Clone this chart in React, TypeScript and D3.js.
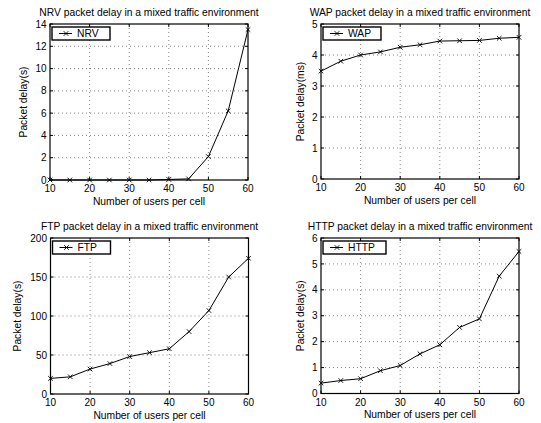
import React from "react";
import * as d3 from "d3";

const users = [10, 15, 20, 25, 30, 35, 40, 45, 50, 55, 60];
const nrvDelay = [0, 0, 0, 0, 0, 0, 0.05, 0.1, 2.1, 6.2, 13.5];
const wapDelay = [3.48, 3.8, 4.0, 4.1, 4.25, 4.33, 4.45, 4.46, 4.47, 4.54, 4.57];
const ftpDelay = [20, 22, 32, 39, 48, 53, 58, 80, 107, 150, 174];
const httpDelay = [0.4, 0.5, 0.57, 0.88, 1.08, 1.53, 1.88, 2.55, 2.88, 4.53, 5.48];

const xTicks = [10, 20, 30, 40, 50, 60];
const nrvTicks = [0, 2, 4, 6, 8, 10, 12, 14];
const wapTicks = [0, 1, 2, 3, 4, 5];
const ftpTicks = [0, 50, 100, 150, 200];
const httpTicks = [0, 1, 2, 3, 4, 5, 6];

const titles = [
  "NRV packet delay in a mixed traffic environment",
  "WAP packet delay in a mixed traffic environment",
  "FTP packet delay in a mixed traffic environment",
  "HTTP packet delay in a mixed traffic environment",
];
const legendNames = ["NRV", "WAP", "FTP", "HTTP"];
const yLabels = ["Packet delay(s)", "Packet delay(ms)", "Packet delay(s)", "Packet delay(s)"];
const xLabel = "Number of users per cell";

const FONT = "'Liberation Sans', Arial, Helvetica, sans-serif";

type PanelProps = {
  left: number;
  top: number;
  width: number;
  height: number;
  values: number[];
  yTicks: number[];
  title: string;
  legend: string;
  legendW: number;
  yLabel: string;
  yLabelOff: number;
};

function Panel(p: PanelProps) {
  const x = d3.scaleLinear().domain([10, 60]).range([p.left, p.left + p.width]);
  const yMax = p.yTicks[p.yTicks.length - 1];
  const y = d3.scaleLinear().domain([0, yMax]).range([p.top + p.height, p.top]);
  const line = d3
    .line<number>()
    .x((_, i) => x(users[i]))
    .y((d) => y(d));
  const right = p.left + p.width;
  const bottom = p.top + p.height;
  const tl = 3;
  const m = 2.3;
  const cross = (cx: number, cy: number, k: string) => (
    <path
      key={k}
      d={`M${cx - m},${cy - m}L${cx + m},${cy + m}M${cx - m},${cy + m}L${cx + m},${cy - m}`}
      stroke="#000"
      strokeWidth={0.9}
    />
  );
  const lx = p.left + 2;
  const ly = p.top + 3;
  const lh = 13;
  return (
    <g>
      {/* grid */}
      {xTicks.slice(1, -1).map((t) => (
        <line key={"gx" + t} x1={x(t)} x2={x(t)} y1={p.top} y2={bottom} stroke="#666" strokeWidth={0.8} strokeDasharray="1,3" />
      ))}
      {p.yTicks.slice(1, -1).map((t) => (
        <line key={"gy" + t} x1={p.left} x2={right} y1={y(t)} y2={y(t)} stroke="#666" strokeWidth={0.8} strokeDasharray="1,3" />
      ))}
      {/* ticks inward on all sides */}
      {xTicks.map((t) => (
        <g key={"tx" + t}>
          <line x1={x(t)} x2={x(t)} y1={bottom} y2={bottom - tl} stroke="#000" />
          <line x1={x(t)} x2={x(t)} y1={p.top} y2={p.top + tl} stroke="#000" />
          <text x={x(t)} y={bottom + 12} textAnchor="middle" fontSize={10} fontFamily={FONT}>{t}</text>
        </g>
      ))}
      {p.yTicks.map((t) => (
        <g key={"ty" + t}>
          <line x1={p.left} x2={p.left + tl} y1={y(t)} y2={y(t)} stroke="#000" />
          <line x1={right} x2={right - tl} y1={y(t)} y2={y(t)} stroke="#000" />
          <text x={p.left - 3.5} y={y(t) + 3.6} textAnchor="end" fontSize={10} fontFamily={FONT}>{t}</text>
        </g>
      ))}
      {/* frame */}
      <rect x={p.left} y={p.top} width={p.width} height={p.height} fill="none" stroke="#000" strokeWidth={1.2} />
      {/* data */}
      <path d={line(p.values) || ""} fill="none" stroke="#000" strokeWidth={1} />
      {p.values.map((v, i) => cross(x(users[i]), y(v), "m" + i))}
      {/* legend */}
      <rect x={lx} y={ly} width={p.legendW} height={lh} fill="#fff" stroke="#000" strokeWidth={1.4} />
      <line x1={lx + 7} x2={lx + 20} y1={ly + lh / 2} y2={ly + lh / 2} stroke="#000" />
      {cross(lx + 14, ly + lh / 2, "lg")}
      <text x={lx + 25} y={ly + lh / 2 + 3.7} fontSize={10.3} fontFamily={FONT}>{p.legend}</text>
      {/* labels */}
      <text x={p.left + p.width / 2} y={p.top - 8} textAnchor="middle" fontSize={10.3} fontFamily={FONT}>{p.title}</text>
      <text x={p.left + p.width / 2} y={bottom + 24.5} textAnchor="middle" fontSize={10.3} fontFamily={FONT}>{xLabel}</text>
      <text
        transform={`translate(${p.left + p.yLabelOff},${p.top + p.height / 2}) rotate(-90)`}
        textAnchor="middle"
        dy="0.35em"
        fontSize={10.3}
        fontFamily={FONT}
      >
        {p.yLabel}
      </text>
    </g>
  );
}

export default function App() {
  return (
    <svg width={541} height={423} style={{ position: "absolute", left: 0, top: 0, background: "#fff" }}>
      <rect width={541} height={423} fill="#fff" />
      <Panel left={50} top={24} width={198} height={156} values={nrvDelay} yTicks={nrvTicks} title={titles[0]} legend={legendNames[0]} legendW={58} yLabel={yLabels[0]} yLabelOff={-27} />
      <Panel left={321} top={24} width={198} height={155} values={wapDelay} yTicks={wapTicks} title={titles[1]} legend={legendNames[1]} legendW={58} yLabel={yLabels[1]} yLabelOff={-21} />
      <Panel left={50.5} top={238} width={198} height={156} values={ftpDelay} yTicks={ftpTicks} title={titles[2]} legend={legendNames[2]} legendW={58} yLabel={yLabels[2]} yLabelOff={-33} />
      <Panel left={321} top={238} width={198} height={155.5} values={httpDelay} yTicks={httpTicks} title={titles[3]} legend={legendNames[3]} legendW={63} yLabel={yLabels[3]} yLabelOff={-21} />
    </svg>
  );
}
